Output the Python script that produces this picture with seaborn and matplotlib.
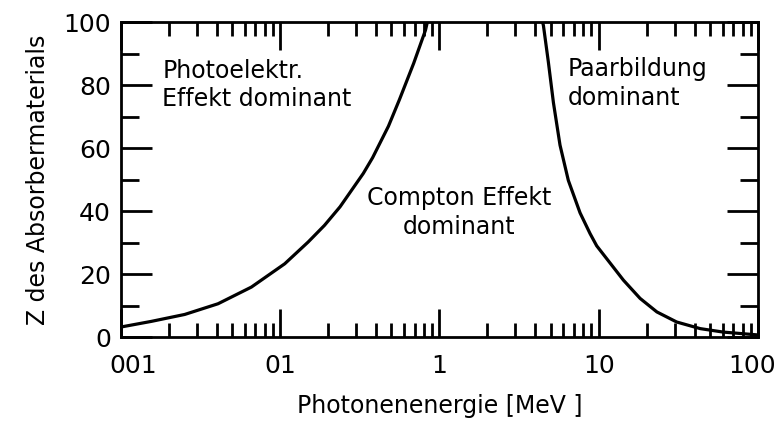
import seaborn as sns
import pandas as pd
import matplotlib.pyplot as plt
import matplotlib.transforms as mtransforms
from matplotlib.ticker import FixedLocator, FixedFormatter, LogLocator, NullFormatter, MultipleLocator

# Boundary curves (energy in MeV, Z of absorber)
photo_energy = [0.01, 0.01556, 0.0252, 0.0408, 0.0661, 0.107, 0.150, 0.19, 0.238,
                0.333, 0.381, 0.479, 0.562, 0.69, 0.818, 0.84]
photo_z = [3.2, 5.0, 7.2, 10.6, 15.9, 23.3, 30.2, 35.5, 41.4,
           52.0, 57.0, 67.0, 75.5, 87.0, 97.5, 100]

pair_energy = [4.45, 4.5, 4.83, 5.2, 5.72, 6.45, 7.64, 8.83, 9.72, 11.2,
               14.3, 18.2, 23.2, 30.9, 43.4, 60.5, 89, 100]
pair_z = [100, 99, 87.5, 74.5, 61.0, 49.8, 39.5, 32.9, 29.0, 25.0,
          18.1, 12.3, 8.0, 4.8, 2.7, 1.6, 0.9, 0.7]

x_ticks = [0.01, 0.1, 1, 10, 100]
x_tick_labels = ["001", "01", "1", "10", "100"]
y_ticks = [0, 20, 40, 60, 80, 100]

df = pd.concat([
    pd.DataFrame({"E": photo_energy, "Z": photo_z, "curve": "photo"}),
    pd.DataFrame({"E": pair_energy, "Z": pair_z, "curve": "pair"}),
], ignore_index=True)

sns.set_style("ticks")
plt.rcParams['font.family'] = ['DejaVu Sans']
plt.rcParams['text.color'] = 'black'
plt.rcParams['axes.labelcolor'] = 'black'

fig = plt.figure(figsize=(7.79, 4.30), dpi=100)
ax = fig.add_axes([0.155, 0.216, 0.818, 0.732])

sns.lineplot(data=df, x="E", y="Z", units="curve", estimator=None,
             color="black", linewidth=2.3, ax=ax, legend=False)

ax.set_xscale("log")
ax.set_xlim(0.01, 100)
ax.set_ylim(0, 100)

ax.xaxis.set_major_locator(FixedLocator(x_ticks))
ax.xaxis.set_major_formatter(FixedFormatter(x_tick_labels))
ax.xaxis.set_minor_locator(LogLocator(base=10, subs=range(2, 10)))
ax.xaxis.set_minor_formatter(NullFormatter())
ax.yaxis.set_major_locator(FixedLocator(y_ticks))
ax.yaxis.set_minor_locator(MultipleLocator(10))

ax.tick_params(which="both", direction="in", top=True, right=True, width=2, colors="black")
ax.tick_params(axis="x", which="major", length=20, pad=12, labelsize=18)
ax.tick_params(axis="x", which="minor", length=10)
ax.tick_params(axis="y", which="major", length=22, pad=7, labelsize=18)
ax.tick_params(axis="y", which="minor", length=13)

# nudge the end labels like in the scanned original
labels = ax.get_xticklabels()
labels[0].set_transform(labels[0].get_transform() + mtransforms.ScaledTranslation(9 / 72, 0, fig.dpi_scale_trans))
labels[-1].set_transform(labels[-1].get_transform() + mtransforms.ScaledTranslation(-4.5 / 72, 0, fig.dpi_scale_trans))

for s in ax.spines.values():
    s.set_linewidth(2)
    s.set_color("black")

ax.set_xlabel("Photonenenergie [MeV ]", fontsize=17, labelpad=12)
ax.set_ylabel("Z des Absorbermaterials", fontsize=17, labelpad=10)

ax.text(0.0182, 88.5, "Photoelektr.\nEffekt dominant", fontsize=17, ha="left", va="top", linespacing=1.25)
ax.text(1.33, 48, "Compton Effekt\ndominant", fontsize=17, ha="center", va="top", linespacing=1.25)
ax.text(6.43, 89, "Paarbildung\ndominant", fontsize=17, ha="left", va="top", linespacing=1.25)

fig.savefig("out.png", dpi=100)
